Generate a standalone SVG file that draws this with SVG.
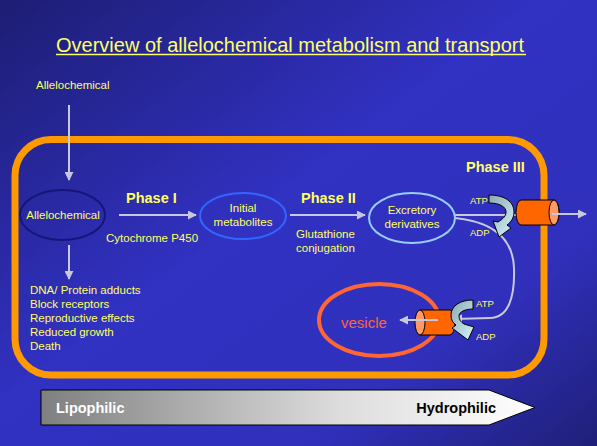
<svg xmlns="http://www.w3.org/2000/svg" width="597" height="446" viewBox="0 0 597 446">
<defs>
<linearGradient id="bg" x1="0" y1="0" x2="1" y2="1">
<stop offset="0" stop-color="#1d1d74"/>
<stop offset="0.45" stop-color="#3131c2"/>
<stop offset="0.75" stop-color="#3030bd"/>
<stop offset="1" stop-color="#1f1f78"/>
</linearGradient>
<linearGradient id="bar" x1="0" y1="0" x2="1" y2="0">
<stop offset="0" stop-color="#7f7f7f"/>
<stop offset="0.6" stop-color="#dcdcdc"/>
<stop offset="1" stop-color="#ffffff"/>
</linearGradient>
<linearGradient id="cyc" x1="0" y1="0" x2="1" y2="1">
<stop offset="0" stop-color="#8aa8b0"/>
<stop offset="1" stop-color="#d6f4fa"/>
</linearGradient>
<marker id="ah" viewBox="0 0 10 10" refX="9" refY="5" markerWidth="9" markerHeight="9" markerUnits="userSpaceOnUse" orient="auto">
<path d="M0,0 L10,5 L0,10 Z" fill="#c8c8dc"/>
</marker>
<style>
text{font-family:"Liberation Sans",Arial,sans-serif;}
.y{fill:#ffff66;font-size:11.5px;}
.ph{fill:#ffff66;font-size:14.5px;font-weight:bold;}
.sm{fill:#ffff66;font-size:9.5px;}
.ln{stroke:#c8c8dc;stroke-width:2;fill:none;}
.cyl{fill:#ff6600;stroke:#000;stroke-width:1;}
.face{fill:#ff9966;stroke:#000;stroke-width:1;}
.cur{fill:url(#cyc);stroke:#000;stroke-width:1;}
</style>
</defs>
<rect x="0" y="0" width="597" height="446" fill="url(#bg)"/>

<g id="title">
<text x="56" y="52" fill="#ffff66" font-size="20">Overview of allelochemical metabolism and transport</text>
<line x1="56" y1="54.5" x2="526" y2="54.5" stroke="#ffff66" stroke-width="1.5"/>
</g>

<g id="cell">
<rect x="15" y="139.5" width="529" height="235.5" rx="36" ry="36" fill="none" stroke="#ff9900" stroke-width="7"/>
</g>

<g id="connectors">
<line class="ln" x1="69" y1="105" x2="69" y2="180" marker-end="url(#ah)"/>
<line class="ln" x1="69" y1="245" x2="69" y2="279" marker-end="url(#ah)"/>
<line class="ln" x1="119" y1="215" x2="196" y2="215" marker-end="url(#ah)"/>
<line class="ln" x1="290" y1="215" x2="365" y2="215" marker-end="url(#ah)"/>
<line class="ln" x1="455" y1="215" x2="516" y2="215"/>
<path class="ln" d="M455,218 C495,222 513,240 514,268 C515,298 508,318 490,318 L454,319" marker-end="url(#ah)"/>
</g>

<g id="source">
<text x="36" y="89" fill="#ffff66" font-size="11.5">Allelochemical</text>
</g>

<g id="allelochemical">
<ellipse cx="62.5" cy="215" rx="42.5" ry="25" fill="none" stroke="#16167a" stroke-width="2"/>
<text class="y" x="63" y="219" text-anchor="middle">Allelochemical</text>
</g>

<g id="phase1">
<text class="ph" x="126" y="203">Phase I</text>
<text class="y" x="106" y="242">Cytochrome P450</text>
</g>

<g id="initial">
<ellipse cx="243" cy="216" rx="43" ry="23" fill="none" stroke="#3366ff" stroke-width="2"/>
<text class="y" x="243" y="212" text-anchor="middle">Initial</text>
<text class="y" x="243" y="226" text-anchor="middle">metabolites</text>
</g>

<g id="phase2">
<text class="ph" x="301" y="203">Phase II</text>
<text class="y" x="296" y="238">Glutathione</text>
<text class="y" x="296" y="252">conjugation</text>
</g>

<g id="excretory">
<ellipse cx="412" cy="218" rx="43" ry="25" fill="none" stroke="#99ccff" stroke-width="2"/>
<text class="y" x="412" y="214" text-anchor="middle">Excretory</text>
<text class="y" x="412" y="228" text-anchor="middle">derivatives</text>
</g>

<g id="effects">
<text class="y" x="30" y="294">DNA/ Protein adducts</text>
<text class="y" x="30" y="308">Block receptors</text>
<text class="y" x="30" y="322">Reproductive effects</text>
<text class="y" x="30" y="336">Reduced growth</text>
<text class="y" x="30" y="350">Death</text>
</g>

<g id="phase3">
<text class="ph" x="466" y="172">Phase III</text>
<path class="cyl" d="M521,200 L554,200 A5,12.5 0 0 1 554,225 L521,225 A5,12.5 0 0 1 521,200 Z"/>
<ellipse class="face" cx="554" cy="212.5" rx="5" ry="12.5"/>
<line class="ln" x1="552" y1="214" x2="586" y2="214" marker-end="url(#ah)"/>
<path class="cur" d="M489,195 C505,195 514,202 514,212 C514,218 511,222 507,225 L511,228 L499,237 L493,221 L498,222 C503,219 506,216 506,212 C506,207 500,203 489,203 Z"/>
<text class="sm" x="470" y="204">ATP</text>
<text class="sm" x="470" y="236">ADP</text>
</g>

<g id="vesicle">
<ellipse cx="379" cy="320" rx="60" ry="36" fill="none" stroke="#ff6633" stroke-width="4"/>
<text x="341" y="328" fill="#ff6633" font-size="15">vesicle</text>
<path class="cyl" d="M420,310 L450,310 A5,12.5 0 0 1 450,335 L420,335 Z"/>
<ellipse class="face" cx="420" cy="322.5" rx="5" ry="12.5"/>
<line class="ln" x1="438" y1="320" x2="400" y2="320" marker-end="url(#ah)"/>
<path class="cur" d="M473,300 C460,300 451,306 451,315 C451,320 453,323 456,325 L452,328 L468,340 L474,327 L464,324 C461,322 459,320 459,316 C459,312 465,309 473,309 Z"/>
<text class="sm" x="476" y="307">ATP</text>
<text class="sm" x="476" y="340">ADP</text>
</g>

<g id="scale">
<path d="M41,390 L489,390 L535,407.5 L489,425 L41,425 Z" fill="url(#bar)" stroke="#000" stroke-width="1"/>
<text x="56" y="413" fill="#ffffff" font-size="14.5" font-weight="bold">Lipophilic</text>
<text x="496" y="413" fill="#000000" font-size="14.5" font-weight="bold" text-anchor="end">Hydrophilic</text>
</g>
</svg>
